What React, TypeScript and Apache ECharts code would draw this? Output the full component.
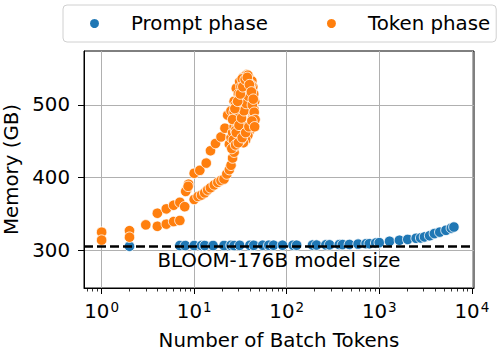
import React, { useEffect, useRef } from "react";
import * as echarts from "echarts";

const FONT = "DejaVu Sans";
const FS = 19.8;

const legendNames = ["Prompt phase", "Token phase"];
const modelSizeLabel = "BLOOM-176B model size";
const modelSize = 306;

const xAxisName = "Number of Batch Tokens";
const yAxisName = "Memory (GB)";
const xMajorTicks = [1, 10, 100, 1000, 10000];
const xMinorTicks = [0.7, 0.8, 0.9, 2, 3, 4, 5, 6, 7, 8, 9, 20, 30, 40, 50, 60, 70, 80, 90,
  200, 300, 400, 500, 600, 700, 800, 900, 2000, 3000, 4000, 5000, 6000, 7000, 8000, 9000];
const yTicks = [300, 400, 500];

// Prompt phase (blue)
const promptTokens = [2, 7, 8, 10, 12, 13, 16, 21, 25, 27, 31, 40, 44, 55, 64, 72, 90, 117, 128, 190, 210,
  265, 290, 370, 400, 475, 590, 720, 780, 915, 1000, 1290, 1650, 2030, 2500, 2800, 3080, 3500, 3940, 4500, 5250, 6000, 6400];
const promptMemory = [305.5, 306.5, 306.5, 306.5, 306.5, 306.5, 306.5, 306.5, 306.8, 306.5, 306.8, 306.8, 306.8, 307, 307, 307, 307, 307, 307, 307.2, 307.2,
  307.5, 307.5, 307.8, 307.8, 308, 308.5, 309, 309, 310, 310.5, 312.4, 313.8, 315, 316.5, 317, 318.4, 320, 323, 325, 327.5, 330.5, 332];

// Token phase (orange)
const tokenTokens = [
  1, 1, 2, 2, 3,
  4, 5, 6, 7, 8.3, 8.7, 10, 11.5, 13.5, 15, 17, 19.5, 21.5, 23, 25, 27, 28.5, 31, 34, 37,
  4, 5, 6, 7, 7.9, 8.1, 8.6, 10, 11, 12, 13, 14, 15, 16.5, 18, 19.5, 21, 22.5, 24, 25, 26, 27, 27.5,
  24, 25, 26, 27, 28, 29, 30, 31, 32, 33, 34, 35, 36, 37, 38, 40, 42, 43, 44, 45, 44, 43, 42, 40, 38, 36, 34, 32,
  30, 29, 31, 33, 35, 37, 39, 41, 30, 32, 34, 28, 27, 26, 36, 38, 33, 39, 29, 41, 43, 35, 31, 28,
  26.5, 28.5, 30.5, 32.5, 34.5, 36.5, 38.5, 40.5, 42.5, 44.5, 27.5, 29.5, 31.5, 33.5, 35.5, 37.5, 39.5, 41.5, 43.5, 45.5,
  25.5, 28, 30, 33, 36, 39, 42, 45];
const tokenMemory = [
  325, 314, 327, 318, 335,
  351, 357, 362, 366, 383, 391, 406, 410, 420, 437, 447, 456, 468, 486, 492, 505, 523, 532, 538, 542,
  333, 336, 339.5, 341, 360, 381, 388, 370, 374, 376, 379, 383, 386, 390, 393.5, 396, 398, 405, 411, 417, 427, 435, 443,
  446, 455, 462, 470, 478, 485, 490, 497, 503, 510, 515, 520, 526, 530, 534, 536, 533, 525, 515, 505, 495, 485, 475, 465, 458, 452, 448, 452,
  460, 470, 480, 490, 500, 510, 520, 528, 515, 525, 533, 500, 490, 480, 540, 541, 536, 530, 455, 500, 490, 470, 510, 465,
  452, 462, 472, 482, 492, 502, 512, 522, 500, 490, 495, 505, 515, 525, 535, 538, 528, 518, 508, 480,
  440, 445, 448, 455, 462, 470, 478, 470];

export default function App() {
  const ref = useRef<HTMLDivElement>(null);
  useEffect(() => {
    if (!ref.current) return;
    const chart = echarts.init(ref.current, undefined, { renderer: "svg" });
    const xMin = 0.645;
    const xMax = 10550;
    const option: any = {
      animation: false,
      backgroundColor: "#ffffff",
      textStyle: { fontFamily: FONT },
      grid: {
        left: 84, right: 24, top: 51, bottom: 68,
        show: true, borderColor: "#000", borderWidth: 1, backgroundColor: "transparent",
        containLabel: false, outerBoundsMode: "none",
      },
      legend: {
        left: 63, top: 5, orient: "horizontal",
        padding: [7, 6, 7, 25],
        itemWidth: 11, itemHeight: 11, itemGap: 57,
        icon: "circle",
        borderColor: "#d0d0d0", borderWidth: 1, borderRadius: 4, backgroundColor: "#fff",
        textStyle: { fontSize: FS, color: "#000", fontFamily: FONT, lineHeight: 23, padding: [0, 0, 0, 26] },
        data: legendNames,
      },
      xAxis: [
        {
          type: "log", logBase: 10, min: xMin, max: xMax, position: "bottom",
          name: xAxisName, nameLocation: "middle", nameGap: 42,
          nameTextStyle: { fontSize: FS, color: "#000", fontFamily: FONT },
          axisLine: { show: true, onZero: false, lineStyle: { color: "#000", width: 1 } },
          axisTick: { show: true, inside: false, length: 6, customValues: xMajorTicks, lineStyle: { color: "#000", width: 1 } },
          axisLabel: {
            show: true, customValues: xMajorTicks, margin: 12,
            formatter: (v: number) => `{b|10}{s|${Math.round(Math.log10(v))}}`,
            rich: {
              b: { fontSize: FS, color: "#000", fontFamily: FONT, lineHeight: 22 },
              s: { fontSize: 13.5, color: "#000", fontFamily: FONT, verticalAlign: "top", padding: [0, 0, 0, 1] },
            },
          },
          splitLine: { show: true, lineStyle: { color: "#b0b0b0", width: 1 } },
          minorTick: { show: false }, minorSplitLine: { show: false },
        },
        {
          type: "log", logBase: 10, min: xMin, max: xMax, position: "bottom",
          axisLine: { show: false },
          axisTick: { show: true, inside: false, length: 3.5, customValues: xMinorTicks, lineStyle: { color: "#000", width: 0.8 } },
          axisLabel: { show: false },
          splitLine: { show: false },
        },
      ],
      yAxis: {
        type: "value", min: 248.1, max: 574.3, splitNumber: 3,
        name: yAxisName, nameLocation: "middle", nameGap: 59,
        nameTextStyle: { fontSize: FS, color: "#000", fontFamily: FONT },
        axisLine: { show: true, onZero: false, lineStyle: { color: "#000", width: 1 } },
        axisTick: { show: true, inside: false, length: 6, customValues: yTicks, lineStyle: { color: "#000", width: 1 } },
        axisLabel: { show: true, customValues: yTicks, margin: 14, fontSize: FS, color: "#000", fontFamily: FONT },
        splitLine: { show: true, lineStyle: { color: "#b0b0b0", width: 1 } },
      },
      series: [
        {
          name: legendNames[0], type: "scatter", xAxisIndex: 0,
          data: promptTokens.map((t, i) => [t, promptMemory[i]]),
          symbolSize: 10.5,
          itemStyle: { color: "#1f77b4", borderColor: "#ffffff", borderWidth: 0.8, opacity: 1 },
          z: 2,
        },
        {
          name: legendNames[1], type: "scatter", xAxisIndex: 0,
          data: tokenTokens.map((t, i) => [t, tokenMemory[i]]),
          symbolSize: 10.5,
          itemStyle: { color: "#ff7f0e", borderColor: "#ffffff", borderWidth: 0.8, opacity: 1 },
          z: 3,
        },
        {
          name: "model size", type: "scatter", xAxisIndex: 0, data: [], z: 4,
          markLine: {
            silent: true, symbol: ["none", "none"], animation: false,
            lineStyle: { color: "#000", width: 2.5, type: [9, 4] },
            label: {
              show: true, position: "insideMiddleBottom", formatter: modelSizeLabel,
              fontSize: FS, color: "#000", fontFamily: FONT, distance: 5,
            },
            emphasis: { disabled: true },
            data: [{ yAxis: modelSize }],
          },
        },
      ],
    };
    chart.setOption(option);
    return () => chart.dispose();
  }, []);
  return (
    <div
      ref={ref}
      style={{ position: "fixed", left: 0, top: 0, width: 498, height: 356, background: "#fff" }}
    />
  );
}
